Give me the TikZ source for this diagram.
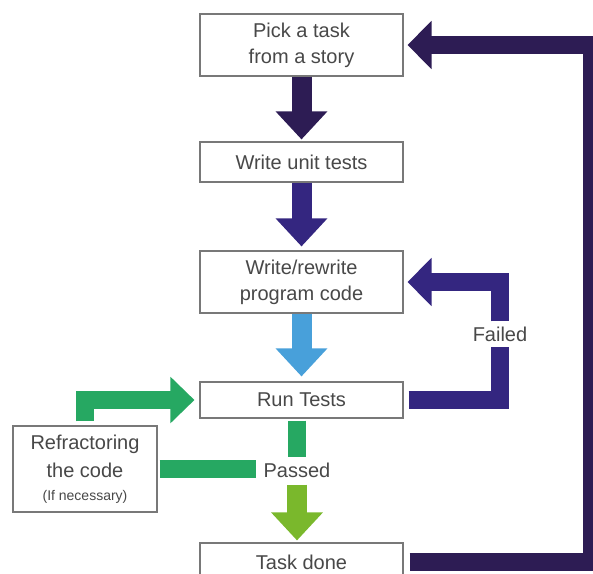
\documentclass[tikz,border=0pt]{standalone}
\usepackage{fontspec}
\setmainfont{Liberation Sans}
\usepackage{xcolor}
\usetikzlibrary{arrows.meta, positioning}
\definecolor{tddnavy}{RGB}{45, 28, 84}
\definecolor{tddpurple}{RGB}{52, 38, 128}
\definecolor{tddblue}{RGB}{72, 160, 218}
\definecolor{tddgreen}{RGB}{38, 168, 98}
\definecolor{tddlime}{RGB}{122, 184, 44}
\definecolor{tddtext}{RGB}{72, 72, 72}
\definecolor{tddedge}{RGB}{120, 120, 120}

\begin{document}
\begin{tikzpicture}[x=1pt, y=-1pt,
  stepbox/.style={draw=tddedge, line width=1.1pt, fill=white, text=tddtext,
    font=\fontsize{20}{26}\selectfont, align=center, minimum width=203pt, inner sep=2pt},
  tag/.style={text=tddtext, font=\fontsize{20}{26}\selectfont, inner sep=5pt},
  flow/.style={line width=20pt, -{Triangle[width=50pt, length=28pt]}},
  loopflow/.style={line width=18pt, -{Triangle[width=47pt, length=24pt]}},
  bar/.style={line width=18pt}]
\useasboundingbox (0,0) rectangle (593,573);

% Main column
\node[stepbox, minimum height=62pt] (pick) at (301.5,45) {Pick a task\\from a story};
\node[stepbox, minimum height=40pt] (unit) at (301.5,162) {Write unit tests};
\node[stepbox, minimum height=62pt] (write) at (301.5,282) {Write/rewrite\\program code};
\node[stepbox, minimum height=36pt] (run) at (301.5,400) {Run Tests};
\node[stepbox, minimum height=38pt] (done) at (301.5,562) {Task done};

% Side box and labels
\node[stepbox, minimum width=144pt, minimum height=86pt, font=\fontsize{20}{28}\selectfont] (refac) at (85,469)
  {Refractoring\\the code\\[-5pt]{\fontsize{14}{17}\selectfont (If necessary)}};
\node[tag] (passed) at (297,470) {Passed};
\node[tag] (failed) at (500,334) {Failed};
\coordinate (loopR) at (592,0);

% Straight arrows
\draw[flow, tddnavy, shorten >=2pt] (pick.south) -- (unit.north);
\draw[flow, tddpurple, shorten >=4pt] (unit.south) -- (write.north);
\draw[flow, tddblue, shorten >=5pt] (write.south) -- (run.north);
\draw[flow, tddlime, shorten <=2pt, shorten >=2pt] (passed.south) -- (passed.south |- done.north);

% Passed branch
\draw[bar, tddgreen, shorten <=2pt] (passed.north |- run.south) -- (passed.north);
\draw[bar, tddgreen, shorten <=2pt, shorten >=2pt] (refac.east) -- (refac.east -| passed.west);
\draw[loopflow, tddgreen, -{Triangle[width=45pt, length=24pt]}, shorten <=4pt, shorten >=5pt]
  (refac.north) |- (run.west);

% Failed loop
\draw[bar, tddpurple, shorten <=5pt] (run.east) -| (failed.south);
\draw[loopflow, tddpurple, shorten >=4pt] (failed.north) |- (write.east);

% Back to the story
\draw[loopflow, tddnavy, shorten <=6pt, shorten >=4pt] (done.east) -| (loopR |- pick.east) -- (pick.east);
\end{tikzpicture}
\end{document}
